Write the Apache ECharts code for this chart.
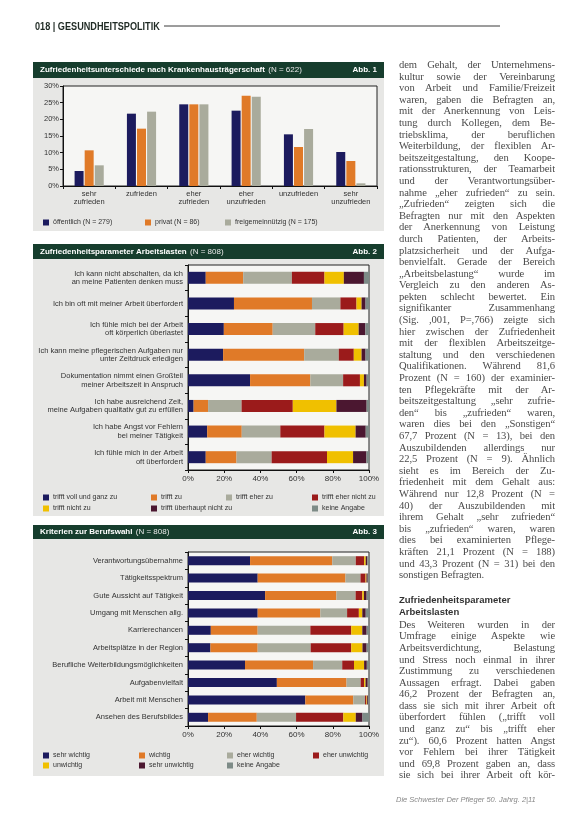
<!DOCTYPE html>
<html><head><meta charset="utf-8">
<script src="https://cdn.jsdelivr.net/npm/echarts@6/dist/echarts.min.js"></script>
<style>
html,body{margin:0;padding:0;background:#fff;}
#page{position:relative;width:566px;height:829px;overflow:hidden;background:#fff;}
#chart{position:absolute;left:0;top:0;width:566px;height:829px;}
#col{position:absolute;left:399px;top:59px;width:156px;font-family:"Liberation Serif","DejaVu Serif",serif;font-size:10.6px;letter-spacing:-0.1px;line-height:11.6px;color:#4a4a4a;}
.l{text-align:justify;text-align-last:justify;height:11.6px;overflow:hidden;}
.e{text-align:left;text-align-last:left;}
.h{font-family:"Liberation Sans",Arial,sans-serif;font-weight:bold;font-size:9.5px;letter-spacing:0;line-height:12.5px;color:#333;}
#foot{position:absolute;left:396px;top:795px;width:150px;font-family:"Liberation Sans",Arial,sans-serif;font-style:italic;font-size:7.5px;color:#888;}
</style></head>
<body><div id="page"><div id="chart"></div>
<div id="col">
<div class="l">dem Gehalt, der Unternehmens-</div>
<div class="l">kultur sowie der Vereinbarung</div>
<div class="l">von Arbeit und Familie/Freizeit</div>
<div class="l">waren, gaben die Befragten an,</div>
<div class="l">mit der Anerkennung von Leis-</div>
<div class="l">tung durch Kollegen, dem Be-</div>
<div class="l">triebsklima, der beruflichen</div>
<div class="l">Weiterbildung, der flexiblen Ar-</div>
<div class="l">beitszeitgestaltung, den Koope-</div>
<div class="l">rationsstrukturen, der Teamarbeit</div>
<div class="l">und der Verantwortungsüber-</div>
<div class="l">nahme „eher zufrieden“ zu sein.</div>
<div class="l">„Zufrieden“ zeigten sich die</div>
<div class="l">Befragten nur mit den Aspekten</div>
<div class="l">der Anerkennung von Leistung</div>
<div class="l">durch Patienten, der Arbeits-</div>
<div class="l">platzsicherheit und der Aufga-</div>
<div class="l">benvielfalt. Gerade der Bereich</div>
<div class="l">„Arbeitsbelastung“ wurde im</div>
<div class="l">Vergleich zu den anderen As-</div>
<div class="l">pekten schlecht bewertet. Ein</div>
<div class="l">signifikanter Zusammenhang</div>
<div class="l">(Sig. ,001, P=,766) zeigte sich</div>
<div class="l">hier zwischen der Zufriedenheit</div>
<div class="l">mit der flexiblen Arbeitszeitge-</div>
<div class="l">staltung und den verschiedenen</div>
<div class="l">Qualifikationen. Während 81,6</div>
<div class="l">Prozent (N = 160) der examinier-</div>
<div class="l">ten Pflegekräfte mit der Ar-</div>
<div class="l">beitszeitgestaltung „sehr zufrie-</div>
<div class="l">den“ bis „zufrieden“ waren,</div>
<div class="l">waren dies bei den „Sonstigen“</div>
<div class="l">67,7 Prozent (N = 13), bei den</div>
<div class="l">Auszubildenden allerdings nur</div>
<div class="l">22,5 Prozent (N = 9). Ähnlich</div>
<div class="l">sieht es im Bereich der Zu-</div>
<div class="l">friedenheit mit dem Gehalt aus:</div>
<div class="l">Während nur 12,8 Prozent (N =</div>
<div class="l">40) der Auszubildenden mit</div>
<div class="l">ihrem Gehalt „sehr zufrieden“</div>
<div class="l">bis „zufrieden“ waren, waren</div>
<div class="l">dies bei examinierten Pflege-</div>
<div class="l">kräften 21,1 Prozent (N = 188)</div>
<div class="l">und 43,3 Prozent (N = 31) bei den</div>
<div class="l e">sonstigen Befragten.</div>
<div style="height:13px"></div>
<div class="h">Zufriedenheitsparameter</div>
<div class="h">Arbeitslasten</div>
<div class="l">Des Weiteren wurden in der</div>
<div class="l">Umfrage einige Aspekte wie</div>
<div class="l">Arbeitsverdichtung, Belastung</div>
<div class="l">und Stress noch einmal in ihrer</div>
<div class="l">Zustimmung zu verschiedenen</div>
<div class="l">Aussagen erfragt. Dabei gaben</div>
<div class="l">46,2 Prozent der Befragten an,</div>
<div class="l">dass sie sich mit ihrer Arbeit oft</div>
<div class="l">überfordert fühlen („trifft voll</div>
<div class="l">und ganz zu“ bis „trifft eher</div>
<div class="l">zu“). 60,6 Prozent hatten Angst</div>
<div class="l">vor Fehlern bei ihrer Tätigkeit</div>
<div class="l">und 69,8 Prozent gaben an, dass</div>
<div class="l">sie sich bei ihrer Arbeit oft kör-</div>
</div>
<div id="foot">Die Schwester Der Pfleger 50. Jahrg. 2|11</div>
</div>
<script>
// ---------- Abb. 1 data ----------
const c1Categories = ['sehr\nzufrieden', 'zufrieden', 'eher\nzufrieden', 'eher\nunzufrieden', 'unzufrieden', 'sehr\nunzufrieden'];
const c1Names = ['öffentlich (N = 279)', 'privat (N = 86)', 'freigemeinnützig (N = 175)'];
const c1Oeffentlich = [4.5, 21.7, 24.5, 22.6, 15.5, 10.2];
const c1Privat = [10.7, 17.2, 24.5, 27.1, 11.7, 7.5];
const c1Freigemein = [6.2, 22.3, 24.5, 26.8, 17.1, 0.8];

// ---------- Abb. 2 data ----------
const c2Categories = [
  'Ich kann nicht abschalten, da ich\nan meine Patienten denken muss',
  'Ich bin oft mit meiner Arbeit überfordert',
  'Ich fühle mich bei der Arbeit\noft körperlich überlastet',
  'Ich kann meine pflegerischen Aufgaben nur\nunter Zeitdruck erledigen',
  'Dokumentation nimmt einen Großteil\nmeiner Arbeitszeit in Anspruch',
  'Ich habe ausreichend Zeit,\nmeine Aufgaben qualitativ gut zu erfüllen',
  'Ich habe Angst vor Fehlern\nbei meiner Tätigkeit',
  'Ich fühle mich in der Arbeit\noft überfordert'
];
const c2Names = ['trifft voll und ganz zu', 'trifft zu', 'trifft eher zu', 'trifft eher nicht zu', 'trifft nicht zu', 'trifft überhaupt nicht zu', 'keine Angabe'];
const c2VollUndGanz = [9.8, 25.4, 19.8, 19.4, 34.3, 3.1, 10.6, 9.8];
const c2Zu = [20.7, 43.1, 27.0, 44.8, 33.3, 8.0, 19.1, 17.0];
const c2EherZu = [26.9, 15.7, 23.5, 19.1, 18.1, 18.5, 21.3, 19.4];
const c2EherNicht = [18.0, 8.9, 15.7, 8.3, 9.3, 28.3, 24.4, 30.6];
const c2Nicht = [10.7, 2.8, 8.3, 4.3, 2.2, 24.1, 17.2, 14.4];
const c2Ueberhaupt = [11.1, 2.2, 3.7, 2.2, 1.5, 16.7, 5.6, 7.4];
const c2Keine = [2.8, 1.9, 1.9, 1.9, 1.3, 1.3, 1.8, 1.4];

// ---------- Abb. 3 data ----------
const c3Categories = [
  'Verantwortungsübernahme', 'Tätigkeitsspektrum', 'Gute Aussicht auf Tätigkeit', 'Umgang mit Menschen allg.',
  'Karrierechancen', 'Arbeitsplätze in der Region', 'Berufliche Weiterbildungsmöglichkeiten',
  'Aufgabenvielfalt', 'Arbeit mit Menschen', 'Ansehen des Berufsbildes'
];
const c3Names = ['sehr wichtig', 'wichtig', 'eher wichtig', 'eher unwichtig', 'unwichtig', 'sehr unwichtig', 'keine Angabe'];
const c3SehrWichtig = [34.3, 38.5, 42.6, 38.5, 12.6, 12.4, 31.5, 49.1, 64.8, 11.1];
const c3Wichtig = [45.4, 48.5, 39.4, 34.6, 25.9, 26.1, 37.6, 38.5, 26.5, 26.9];
const c3EherWichtig = [13.0, 8.3, 10.6, 14.8, 29.1, 29.3, 16.1, 7.8, 6.5, 21.7];
const c3EherUnwichtig = [4.6, 2.8, 3.7, 6.5, 22.6, 22.4, 6.5, 1.9, 0.8, 26.1];
const c3Unwichtig = [0.9, 0.5, 0.9, 1.9, 6.1, 6.2, 5.6, 0.8, 0.4, 6.9];
const c3SehrUnwichtig = [0.9, 0.7, 1.5, 1.9, 2.4, 2.3, 1.5, 1.2, 0.5, 3.7];
const c3Keine = [0.9, 0.7, 1.3, 1.8, 1.3, 1.3, 1.2, 0.7, 0.5, 3.6];

// ---------- styling ----------
const FONT = '"Liberation Sans", Arial, sans-serif';
const GREEN = '#163d2d';
const PANEL = '#e7e7e5';
const PLOT = '#f6f6f4';
const c1Colors = ['#1c1b5e', '#e07a28', '#a9ab9c'];
const scaleColors = ['#1c1b5e', '#e07a28', '#a9ab9c', '#9b1b1b', '#f0c000', '#4b1730', '#7d8b87'];

const chart = echarts.init(document.getElementById('chart'));

function titleBar(y, h, title, n, abb) {
  return [
    { type: 'rect', z: -2, shape: { x: 33, y: y, width: 351, height: h }, style: { fill: GREEN } },
    { type: 'text', z: -1, style: { x: 40, y: y + h / 2, verticalAlign: 'middle', align: 'left',
      text: '{b|' + title + '} {n|' + n + '}',
      rich: { b: { fontFamily: FONT, fontWeight: 'bold', fontSize: 8, fill: '#fff' },
              n: { fontFamily: FONT, fontSize: 8, fill: '#e8e8e8' } } } },
    { type: 'text', z: -1, style: { x: 377, y: y + h / 2, verticalAlign: 'middle', align: 'right',
      text: abb, fontFamily: FONT, fontWeight: 'bold', fontSize: 8, fill: '#fff' } }
  ];
}
function panel(y, h) {
  return { type: 'rect', z: -3, shape: { x: 33, y: y, width: 351, height: h }, style: { fill: PANEL } };
}

const graphic = [
  { type: 'text', x: 35, y: 27, scaleX: 0.83, style: { x: 0, y: 0, verticalAlign: 'middle', text: '018 | GESUNDHEITSPOLITIK',
    fontFamily: FONT, fontWeight: 'bold', fontSize: 11, fill: '#1f2a24' } },
  { type: 'line', shape: { x1: 164, y1: 26, x2: 500, y2: 26 }, style: { stroke: '#3a3a3a', lineWidth: 1 } },
  panel(78, 153), ...titleBar(62, 16, 'Zufriedenheitsunterschiede nach Krankenhausträgerschaft', '(N = 622)', 'Abb. 1'),
  panel(259, 257), ...titleBar(244, 15, 'Zufriedenheitsparameter Arbeitslasten', '(N = 808)', 'Abb. 2'),
  panel(539, 237), ...titleBar(525, 14, 'Kriterien zur Berufswahl', '(N = 808)', 'Abb. 3')
];

// legends: one small legend per item, positioned like the print
function legendItem(name, left, top) {
  return { data: [name], left: left, top: top, selectedMode: false, itemWidth: 6, itemHeight: 6, itemGap: 0,
    icon: 'rect', padding: 0, textStyle: { fontFamily: FONT, fontSize: 7, color: '#333', padding: [0, 0, 0, -1] } };
}
const legends = [];
const c1LegPos = [[43, 219], [145, 219], [225, 219]];
c1Names.forEach((n, i) => legends.push(legendItem(n, c1LegPos[i][0], c1LegPos[i][1])));
const c2LegPos = [[43, 494], [151, 494], [226, 494], [312, 494], [43, 505], [151, 505], [312, 505]];
c2Names.forEach((n, i) => legends.push(legendItem(n, c2LegPos[i][0], c2LegPos[i][1])));
const c3LegPos = [[43, 752], [139, 752], [227, 752], [313, 752], [43, 762], [139, 762], [227, 762]];
c3Names.forEach((n, i) => { if (n !== 'keine Angabe') legends.push(legendItem(n, c3LegPos[i][0], c3LegPos[i][1])); });
legends.push(legendItem('keine Angabe ', c3LegPos[6][0], c3LegPos[6][1]));

const axisLine = { show: true, lineStyle: { color: '#111', width: 1 } };
const grids = [
  { left: 63, top: 86, width: 314, height: 100, show: true, backgroundColor: PLOT, borderColor: '#222', borderWidth: 1 },
  { left: 188, top: 265, width: 181, height: 205, show: true, backgroundColor: PLOT, borderColor: '#222', borderWidth: 1 },
  { left: 188, top: 552, width: 181, height: 174, show: true, backgroundColor: PLOT, borderColor: '#222', borderWidth: 1 }
];
const pctLabel = v => v + '%';
const xAxes = [
  { type: 'category', gridIndex: 0, data: c1Categories, axisLine: axisLine,
    axisTick: { show: true, length: 3, lineStyle: { color: '#111' } },
    axisLabel: { fontFamily: FONT, fontSize: 7.5, color: '#333', lineHeight: 8, margin: 4, interval: 0 } },
  { type: 'value', gridIndex: 1, min: 0, max: 100, interval: 20, splitLine: { show: false }, axisLine: axisLine,
    axisTick: { show: true, length: 3, lineStyle: { color: '#111' } },
    axisLabel: { formatter: pctLabel, fontFamily: FONT, fontSize: 8, color: '#333', margin: 5 } },
  { type: 'value', gridIndex: 2, min: 0, max: 100, interval: 20, splitLine: { show: false }, axisLine: axisLine,
    axisTick: { show: true, length: 3, lineStyle: { color: '#111' } },
    axisLabel: { formatter: pctLabel, fontFamily: FONT, fontSize: 8, color: '#333', margin: 5 } }
];
const yAxes = [
  { type: 'value', gridIndex: 0, min: 0, max: 30, interval: 5, splitLine: { show: false }, axisLine: axisLine,
    axisTick: { show: true, length: 3, lineStyle: { color: '#111' } },
    axisLabel: { formatter: pctLabel, fontFamily: FONT, fontSize: 7.5, color: '#333', margin: 4 } },
  { type: 'category', gridIndex: 1, inverse: true, data: c2Categories, axisLine: axisLine,
    axisTick: { show: true, length: 3, lineStyle: { color: '#111' } },
    axisLabel: { fontFamily: FONT, fontSize: 7.5, color: '#333', lineHeight: 8.5, margin: 5, interval: 0, align: 'right' } },
  { type: 'category', gridIndex: 2, inverse: true, data: c3Categories, axisLine: axisLine,
    axisTick: { show: true, length: 3, lineStyle: { color: '#111' } },
    axisLabel: { fontFamily: FONT, fontSize: 7.5, color: '#333', margin: 5, interval: 0, align: 'right' } }
];

const series = [];
[c1Oeffentlich, c1Privat, c1Freigemein].forEach((d, i) => series.push({
  type: 'bar', name: c1Names[i], xAxisIndex: 0, yAxisIndex: 0, data: d, barWidth: 9, barGap: '12%',
  itemStyle: { color: c1Colors[i] }
}));
[c2VollUndGanz, c2Zu, c2EherZu, c2EherNicht, c2Nicht, c2Ueberhaupt, c2Keine].forEach((d, i) => series.push({
  type: 'bar', name: c2Names[i], stack: 'c2', xAxisIndex: 1, yAxisIndex: 1, data: d, barWidth: 12,
  itemStyle: { color: scaleColors[i] }
}));
[c3SehrWichtig, c3Wichtig, c3EherWichtig, c3EherUnwichtig, c3Unwichtig, c3SehrUnwichtig, c3Keine].forEach((d, i) => series.push({
  type: 'bar', name: i === 6 ? 'keine Angabe ' : c3Names[i], stack: 'c3', xAxisIndex: 2, yAxisIndex: 2, data: d, barWidth: 9,
  itemStyle: { color: scaleColors[i] }
}));

chart.setOption({
  animation: false,
  backgroundColor: 'transparent',
  graphic: graphic,
  legend: legends,
  grid: grids,
  xAxis: xAxes,
  yAxis: yAxes,
  series: series
});
</script>
</body></html>
